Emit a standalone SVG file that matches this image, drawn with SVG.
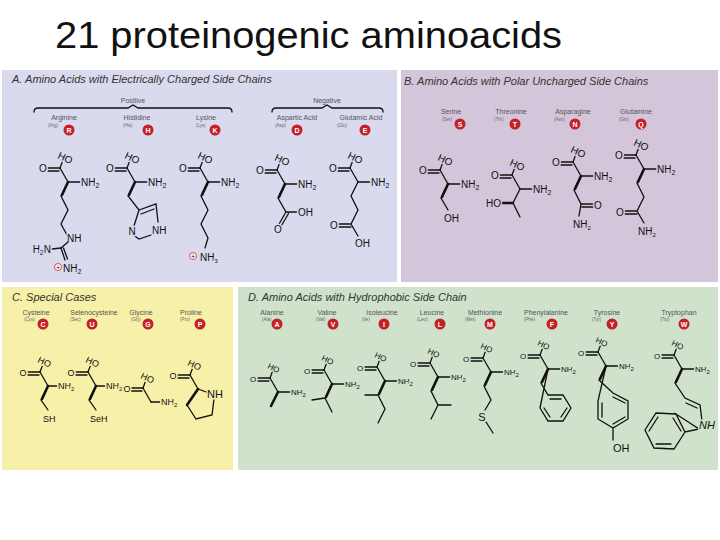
<svg xmlns="http://www.w3.org/2000/svg" xmlns:xlink="http://www.w3.org/1999/xlink" width="720" height="540" viewBox="0 0 720 540">
<style>
text{font-family:"Liberation Sans",Arial,sans-serif;fill:#111}
.b{stroke:#111;stroke-width:1.3;fill:none;stroke-linecap:round}
.w{stroke:#111;stroke-width:2.6;stroke-linecap:round}
.at{font-size:10px;paint-order:stroke;stroke-width:3;stroke-linejoin:round}
.pa .at{stroke:#d9daee}.pb .at{stroke:#d4c6da}.pc .at{stroke:#f6f0a8}.pd .at{stroke:#d0e2cc}
.pd .at{font-size:8px}
.pc .at{font-size:9px}
.ttl{font-size:11px;font-style:italic;fill:#333}
.nm{font-size:7px;fill:#555;text-anchor:middle}
.ab{font-size:4.5px;fill:#666}
.bd{fill:#c42026}
.bl{font-size:7px;fill:#fff;font-weight:bold;text-anchor:middle}
</style>
<defs>
<g id="head">
<line class="b" x1="0" y1="0" x2="8" y2="14"/>
<line class="b" x1="0" y1="0" x2="3" y2="-8"/>
<line class="b" x1="0" y1="0" x2="-12" y2="0"/>
<line class="b" x1="-1" y1="3" x2="-12" y2="3"/>
<line class="b" x1="8" y1="14" x2="20" y2="14"/>
</g>
<g id="headS">
<line class="b" x1="0" y1="0" x2="8" y2="14"/>
<line class="b" x1="0" y1="0" x2="3" y2="-8"/>
<line class="b" x1="0" y1="0" x2="-12" y2="0"/>
<line class="b" x1="-1" y1="3" x2="-12" y2="3"/>
<line class="b" x1="8" y1="14" x2="17" y2="14"/>
</g>
</defs>
<rect width="720" height="540" fill="#fff"/>
<text x="55" y="48" font-size="36" fill="#000" textLength="507" lengthAdjust="spacingAndGlyphs">21 proteinogenic aminoacids</text>

<rect x="2" y="70" width="395" height="212" fill="#d9daee"/>
<rect x="401" y="70" width="317" height="212" fill="#d4c6da"/>
<rect x="2" y="287" width="231" height="183" fill="#f6f0a8"/>
<rect x="238" y="287" width="480" height="183" fill="#d0e2cc"/>

<g id="panelA" class="pa">
<text class="ttl" x="12" y="83">A.   Amino Acids with Electrically Charged Side Chains</text>
<text class="nm" x="133" y="103">Positive</text>
<path class="b" d="M34,112 q0,-4 4,-4 H128 l5,-3 l5,3 H228 q4,0 4,4" stroke-width="0.8" stroke="#555"/>
<text class="nm" x="327" y="103">Negative</text>
<path class="b" d="M272,112 q0,-4 4,-4 H322 l5,-3 l5,3 H379 q4,0 4,4" stroke-width="0.8" stroke="#555"/>
<g id="arg"><text class="nm" x="64" y="120">Arginine</text><text class="ab" x="48" y="127">(Arg)</text><circle class="bd" cx="69" cy="130" r="5.5"/><text class="bl" x="69" y="132.5">R</text>
<g transform="translate(60,168)"><use href="#head"/><text class="at" x="-17" y="4" text-anchor="middle">O</text><text class="at" transform="translate(-3,-10) rotate(25)">HO</text><text class="at" x="21" y="18">NH<tspan font-size="7" dy="2">2</tspan></text>
<path class="b" d="M8,14 L1,28 L8,42 L1,56 L7,67"/><line class="w" x1="8" y1="14" x2="2" y2="27"/>
<text class="at" x="7" y="74">NH</text><line class="b" x1="8" y1="74" x2="1" y2="80"/><line class="b" x1="1" y1="80" x2="-8" y2="81"/>
<text class="at" x="-9" y="85" text-anchor="end">H<tspan font-size="7" dy="2">2</tspan><tspan dy="-2">N</tspan></text>
<line class="b" x1="1" y1="80" x2="5" y2="92"/><line class="b" x1="3.5" y1="80" x2="7.5" y2="91"/>
<circle cx="-2" cy="99" r="3.5" fill="#fff" stroke="#c42026" stroke-width="0.8"/><text x="-2" y="101.5" font-size="7" fill="#c42026" text-anchor="middle">+</text>
<text class="at" x="3" y="104">NH<tspan font-size="7" dy="2">2</tspan></text></g></g>
<g id="his"><text class="nm" x="137" y="120">Histidine</text><text class="ab" x="123" y="127">(His)</text><circle class="bd" cx="148" cy="130" r="5.5"/><text class="bl" x="148" y="132.5">H</text>
<g transform="translate(127,168)"><use href="#head"/><text class="at" x="-17" y="4" text-anchor="middle">O</text><text class="at" transform="translate(-3,-10) rotate(25)">HO</text><text class="at" x="21" y="18">NH<tspan font-size="7" dy="2">2</tspan></text>
<path class="b" d="M8,14 L1,28 L12,42 L29,36 L31,54 M12,42 L7,58 M2,64 L12,71 L24,67"/><line class="w" x1="8" y1="14" x2="2" y2="27"/><line class="b" x1="14" y1="46" x2="27" y2="41"/>
<text class="at" x="5" y="67" text-anchor="middle">N</text><text class="at" x="25" y="66">NH</text></g></g>
<g id="lys"><text class="nm" x="206" y="120">Lysine</text><text class="ab" x="196" y="127">(Lys)</text><circle class="bd" cx="215" cy="130" r="5.5"/><text class="bl" x="215" y="132.5">K</text>
<g transform="translate(200,168)"><use href="#head"/><text class="at" x="-17" y="4" text-anchor="middle">O</text><text class="at" transform="translate(-3,-10) rotate(25)">HO</text><text class="at" x="21" y="18">NH<tspan font-size="7" dy="2">2</tspan></text>
<path class="b" d="M8,14 L1,28 L8,42 L1,56 L8,70 L5,80"/><line class="w" x1="8" y1="14" x2="2" y2="27"/>
<circle cx="-7" cy="88" r="3.5" fill="#fff" stroke="#c42026" stroke-width="0.8"/><text x="-7" y="90.5" font-size="7" fill="#c42026" text-anchor="middle">+</text>
<text class="at" x="0" y="93">NH<tspan font-size="6" dy="2">3</tspan></text></g></g>
<g id="asp"><text class="nm" x="297" y="120">Aspartic Acid</text><text class="ab" x="275" y="127">(Asp)</text><circle class="bd" cx="297" cy="130" r="5.5"/><text class="bl" x="297" y="132.5">D</text>
<g transform="translate(277,170)"><use href="#head"/><text class="at" x="-17" y="4" text-anchor="middle">O</text><text class="at" transform="translate(-3,-10) rotate(25)">HO</text><text class="at" x="21" y="18">NH<tspan font-size="7" dy="2">2</tspan></text>
<path class="b" d="M8,14 L1,28 L9,42 L20,42 M9,42 L2,54 M11.5,43.5 L4.5,55.5"/><line class="w" x1="8" y1="14" x2="2" y2="27"/>
<text class="at" x="21" y="46">OH</text><text class="at" x="1" y="63" text-anchor="middle">O</text></g></g>
<g id="glu"><text class="nm" x="361" y="120">Glutamic Acid</text><text class="ab" x="337" y="127">(Glu)</text><circle class="bd" cx="365" cy="130" r="5.5"/><text class="bl" x="365" y="132.5">E</text>
<g transform="translate(350,168)"><use href="#head"/><text class="at" x="-17" y="4" text-anchor="middle">O</text><text class="at" transform="translate(-3,-10) rotate(25)">HO</text><text class="at" x="21" y="18">NH<tspan font-size="7" dy="2">2</tspan></text>
<path class="b" d="M8,14 L1,28 L8,42 L1,56 L-11,56 M1,59 L-11,59 M1,56 L8,68"/>
<text class="at" x="-16" y="61" text-anchor="middle">O</text><text class="at" x="5" y="79">OH</text></g></g>
</g>

<g id="panelB" class="pb">
<text class="ttl" x="404" y="85">B.   Amino Acids with Polar Uncharged Side Chains</text>
<g id="ser"><text class="nm" x="451" y="114">Serine</text><text class="ab" x="442" y="121">(Ser)</text><circle class="bd" cx="460" cy="124" r="5.5"/><text class="bl" x="460" y="126.5">S</text>
<g transform="translate(440,170)"><use href="#head"/><text class="at" x="-17" y="4" text-anchor="middle">O</text><text class="at" transform="translate(-3,-10) rotate(25)">HO</text><text class="at" x="21" y="18">NH<tspan font-size="7" dy="2">2</tspan></text>
<path class="b" d="M8,14 L1,28 L8,40"/><line class="w" x1="8" y1="14" x2="2" y2="27"/><text class="at" x="4" y="52">OH</text></g></g>
<g id="thr"><text class="nm" x="511" y="114">Threonine</text><text class="ab" x="494" y="121">(Thr)</text><circle class="bd" cx="515" cy="124" r="5.5"/><text class="bl" x="515" y="126.5">T</text>
<g transform="translate(512,175)"><use href="#head"/><text class="at" x="-17" y="4" text-anchor="middle">O</text><text class="at" transform="translate(-3,-10) rotate(25)">HO</text><text class="at" x="21" y="18">NH<tspan font-size="7" dy="2">2</tspan></text>
<path class="b" d="M8,14 L1,28 L8,42"/><line class="w" x1="1" y1="28" x2="-10" y2="28"/><text class="at" x="-11" y="32" text-anchor="end">HO</text></g></g>
<g id="asn"><text class="nm" x="573" y="114">Asparagine</text><text class="ab" x="554" y="121">(Asn)</text><circle class="bd" cx="575" cy="124" r="5.5"/><text class="bl" x="575" y="126.5">N</text>
<g transform="translate(573,162)"><use href="#head"/><text class="at" x="-17" y="4" text-anchor="middle">O</text><text class="at" transform="translate(-3,-10) rotate(25)">HO</text><text class="at" x="21" y="18">NH<tspan font-size="7" dy="2">2</tspan></text>
<path class="b" d="M8,14 L1,28 L8,42 L20,42 M9,45 L20,45 M8,42 L6,54"/><line class="w" x1="8" y1="14" x2="2" y2="27"/>
<text class="at" x="25" y="47" text-anchor="middle">O</text><text class="at" x="0" y="66">NH<tspan font-size="6" dy="2">2</tspan></text></g></g>
<g id="gln"><text class="nm" x="636" y="114">Glutamine</text><text class="ab" x="619" y="121">(Gln)</text><circle class="bd" cx="641" cy="124" r="5.5"/><text class="bl" x="641" y="126.5">Q</text>
<g transform="translate(636,155)"><use href="#head"/><text class="at" x="-17" y="4" text-anchor="middle">O</text><text class="at" transform="translate(-3,-10) rotate(25)">HO</text><text class="at" x="21" y="18">NH<tspan font-size="7" dy="2">2</tspan></text>
<path class="b" d="M8,14 L1,28 L8,42 L1,56 L-11,56 M1,59 L-11,59 M1,56 L8,68"/><line class="w" x1="8" y1="14" x2="2" y2="27"/>
<text class="at" x="-16" y="61" text-anchor="middle">O</text><text class="at" x="2" y="80">NH<tspan font-size="6" dy="2">2</tspan></text></g></g>
</g>

<g id="panelC" class="pc">
<text class="ttl" x="12" y="301">C.   Special Cases</text>
<g id="cys"><text class="nm" x="36" y="315">Cysteine</text><text class="ab" x="24" y="321">(Cys)</text><circle class="bd" cx="43" cy="324" r="5.5"/><text class="bl" x="43" y="326.5">C</text>
<g transform="translate(40,372)"><use href="#headS"/><text class="at" x="-17" y="4" text-anchor="middle">O</text><text class="at" transform="translate(-3,-10) rotate(25)">HO</text><text class="at" x="18" y="17">NH<tspan font-size="6" dy="2">2</tspan></text>
<path class="b" d="M8,14 L1,28 L8,38"/><line class="w" x1="8" y1="14" x2="2" y2="27"/><text class="at" x="3" y="50">SH</text></g></g>
<g id="sec"><text class="nm" x="94" y="315">Selenocysteine</text><text class="ab" x="70" y="321">(Sec)</text><circle class="bd" cx="92" cy="324" r="5.5"/><text class="bl" x="92" y="326.5">U</text>
<g transform="translate(88,372)"><use href="#headS"/><text class="at" x="-17" y="4" text-anchor="middle">O</text><text class="at" transform="translate(-3,-10) rotate(25)">HO</text><text class="at" x="18" y="17">NH<tspan font-size="6" dy="2">2</tspan></text>
<path class="b" d="M8,14 L1,28 L8,38"/><line class="w" x1="8" y1="14" x2="2" y2="27"/><text class="at" x="2" y="50">SeH</text></g></g>
<g id="gly"><text class="nm" x="141" y="315">Glycine</text><text class="ab" x="131" y="321">(Gly)</text><circle class="bd" cx="148" cy="324" r="5.5"/><text class="bl" x="148" y="326.5">G</text>
<g transform="translate(143,388)"><use href="#headS"/><text class="at" x="-16" y="4" text-anchor="middle">O</text><text class="at" transform="translate(-3,-10) rotate(25)">HO</text><text class="at" x="18" y="17">NH<tspan font-size="6" dy="2">2</tspan></text></g></g>
<g id="pro"><text class="nm" x="191" y="315">Proline</text><text class="ab" x="180" y="321">(Pro)</text><circle class="bd" cx="200" cy="324" r="5.5"/><text class="bl" x="200" y="326.5">P</text>
<g transform="translate(190,375)"><line class="b" x1="0" y1="0" x2="8" y2="14"/><line class="b" x1="0" y1="0" x2="3" y2="-8"/><line class="b" x1="0" y1="0" x2="-12" y2="0"/><line class="b" x1="-1" y1="3" x2="-12" y2="3"/>
<text class="at" x="-17" y="4" text-anchor="middle">O</text><text class="at" transform="translate(-3,-10) rotate(25)">HO</text>
<path class="b" d="M8,14 L19,18 M24,24 L22,40 L6,44 L-3,30"/><line class="w" x1="8" y1="14" x2="-3" y2="30"/>
<text class="at" x="17" y="23" style="font-size:11px">NH</text></g></g>
</g>

<g id="panelD" class="pd">
<text class="ttl" x="248" y="301">D.   Amino Acids with Hydrophobic Side Chain</text>
<g id="ala"><text class="nm" x="272" y="315">Alanine</text><text class="ab" x="262" y="321">(Ala)</text><circle class="bd" cx="277" cy="324" r="5.5"/><text class="bl" x="277" y="326.5">A</text>
<g transform="translate(270,378)"><use href="#head"/><text class="at" x="-17" y="4" text-anchor="middle">O</text><text class="at" transform="translate(-3,-10) rotate(25)">HO</text><text class="at" x="21" y="17">NH<tspan font-size="6" dy="2">2</tspan></text>
<line class="w" x1="8" y1="14" x2="1" y2="28"/></g></g>
<g id="val"><text class="nm" x="327" y="315">Valine</text><text class="ab" x="316" y="321">(Val)</text><circle class="bd" cx="333" cy="324" r="5.5"/><text class="bl" x="333" y="326.5">V</text>
<g transform="translate(324,370)"><use href="#head"/><text class="at" x="-17" y="4" text-anchor="middle">O</text><text class="at" transform="translate(-3,-10) rotate(25)">HO</text><text class="at" x="21" y="17">NH<tspan font-size="6" dy="2">2</tspan></text>
<path class="b" d="M1,28 L-12,30 M1,28 L8,42"/><line class="w" x1="8" y1="14" x2="2" y2="27"/></g></g>
<g id="ile"><text class="nm" x="382" y="315">Isoleucine</text><text class="ab" x="362" y="321">(Ile)</text><circle class="bd" cx="384" cy="324" r="5.5"/><text class="bl" x="384" y="326.5">I</text>
<g transform="translate(377,367)"><use href="#head"/><text class="at" x="-17" y="4" text-anchor="middle">O</text><text class="at" transform="translate(-3,-10) rotate(25)">HO</text><text class="at" x="21" y="17">NH<tspan font-size="6" dy="2">2</tspan></text>
<path class="b" d="M1,28 L-12,28 M1,28 L8,42 L1,56"/><line class="w" x1="8" y1="14" x2="2" y2="27"/></g></g>
<g id="leu"><text class="nm" x="432" y="315">Leucine</text><text class="ab" x="417" y="321">(Leu)</text><circle class="bd" cx="440" cy="324" r="5.5"/><text class="bl" x="440" y="326.5">L</text>
<g transform="translate(430,363)"><use href="#head"/><text class="at" x="-17" y="4" text-anchor="middle">O</text><text class="at" transform="translate(-3,-10) rotate(25)">HO</text><text class="at" x="21" y="17">NH<tspan font-size="6" dy="2">2</tspan></text>
<path class="b" d="M8,14 L1,28 L8,42 L21,42 M8,42 L1,56"/><line class="w" x1="8" y1="14" x2="2" y2="27"/></g></g>
<g id="met"><text class="nm" x="485" y="315">Methionine</text><text class="ab" x="465" y="321">(Met)</text><circle class="bd" cx="490" cy="324" r="5.5"/><text class="bl" x="490" y="326.5">M</text>
<g transform="translate(483,358)"><use href="#head"/><text class="at" x="-17" y="4" text-anchor="middle">O</text><text class="at" transform="translate(-3,-10) rotate(25)">HO</text><text class="at" x="21" y="17">NH<tspan font-size="6" dy="2">2</tspan></text>
<path class="b" d="M8,14 L1,28 L8,42 L2,52 M3,64 L10,75"/><line class="w" x1="8" y1="14" x2="2" y2="27"/><text class="at" x="-1" y="63" style="font-size:11px" text-anchor="middle">S</text></g></g>
<g id="phe"><text class="nm" x="546" y="315">Phenylalanine</text><text class="ab" x="524" y="321">(Phe)</text><circle class="bd" cx="552" cy="324" r="5.5"/><text class="bl" x="552" y="326.5">F</text>
<g transform="translate(540,355)"><use href="#head"/><text class="at" x="-17" y="4" text-anchor="middle">O</text><text class="at" transform="translate(-3,-10) rotate(25)">HO</text><text class="at" x="21" y="17">NH<tspan font-size="6" dy="2">2</tspan></text>
<path class="b" d="M8,14 L1,28 L8,40 L23,40 L31,53 L23,66 L8,66 L0,53 Z M10,44 L21,44 M27,53 L21,62 M4,53 L10,62"/><line class="w" x1="8" y1="14" x2="2" y2="27"/></g></g>
<g id="tyr"><text class="nm" x="607" y="315">Tyrosine</text><text class="ab" x="592" y="321">(Tyr)</text><circle class="bd" cx="612" cy="324" r="5.5"/><text class="bl" x="612" y="326.5">Y</text>
<g transform="translate(598,352)"><use href="#head"/><text class="at" x="-17" y="4" text-anchor="middle">O</text><text class="at" transform="translate(-3,-10) rotate(25)">HO</text><text class="at" x="21" y="17">NH<tspan font-size="6" dy="2">2</tspan></text>
<path class="b" d="M8,14 L1,28 L15,41 L30,49 L30,67 L15,76 L0,67 L0,49 Z M15,45 L27,51 M27,65 L15,72 M4,51 L4,65 M15,76 L15,88"/><line class="w" x1="8" y1="14" x2="2" y2="27"/>
<text class="at" x="15" y="100" style="font-size:11px">OH</text></g></g>
<g id="trp"><text class="nm" x="679" y="315">Tryptophan</text><text class="ab" x="660" y="321">(Trp)</text><circle class="bd" cx="684" cy="324" r="5.5"/><text class="bl" x="684" y="326.5">W</text>
<g transform="translate(674,355)"><use href="#head"/><text class="at" x="-17" y="4" text-anchor="middle">O</text><text class="at" transform="translate(-3,-10) rotate(25)">HO</text><text class="at" x="21" y="17">NH<tspan font-size="6" dy="2">2</tspan></text>
<path class="b" d="M8,14 L1,28 L11,43 L26,50 L28,66 M25,74 L11,77 L2,59 Z M12,48 L23,53 M11,77 L0,94 L-20,93 L-29,75 L-18,58 L2,59 M-1,63 L7,76 M-3,89 L-18,89 M-25,76 L-16,62"/><line class="w" x1="8" y1="14" x2="2" y2="27"/>
<text class="at" x="25" y="74" style="font-size:11px;font-style:italic">NH</text></g></g>
</g>
</svg>
